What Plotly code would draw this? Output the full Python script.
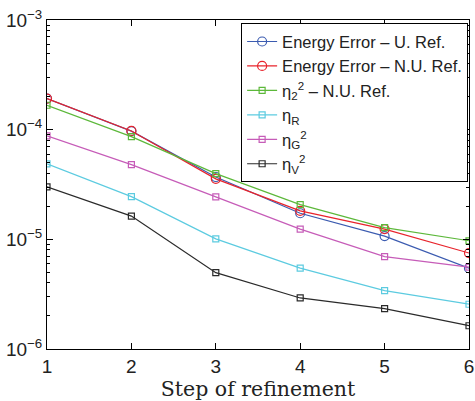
import plotly.graph_objects as go

steps = [1, 2, 3, 4, 5, 6]
energy_u = [1.92e-4, 9.7e-5, 3.7e-5, 1.73e-5, 1.07e-5, 5.46e-6]
energy_nu = [1.92e-4, 9.73e-5, 3.56e-5, 1.82e-5, 1.24e-5, 7.5e-6]
eta2_nu = [1.67e-4, 8.63e-5, 3.97e-5, 2.07e-5, 1.28e-5, 9.7e-6]
eta_r = [4.87e-5, 2.45e-5, 1.01e-5, 5.46e-6, 3.41e-6, 2.56e-6]
eta_g = [8.77e-5, 4.8e-5, 2.44e-5, 1.24e-5, 6.95e-6, 5.57e-6]
eta_v = [3.01e-5, 1.63e-5, 4.97e-6, 2.92e-6, 2.33e-6, 1.63e-6]

names = [
    "Energy Error \u2013 U. Ref.",
    "Energy Error \u2013 N.U. Ref.",
    "\u03b7<sub>2</sub><sup>2</sup> \u2013 N.U. Ref.",
    "\u03b7<sub>R</sub>",
    "\u03b7<sub>G</sub><sup>2</sup>",
    "\u03b7<sub>V</sub><sup>2</sup>",
]
y_ticks = [1e-6, 1e-5, 1e-4, 1e-3]
y_ticktext = ["10<sup>\u22126</sup>", "10<sup>\u22125</sup>", "10<sup>\u22124</sup>", "10<sup>\u22123</sup>"]

series = [energy_u, energy_nu, eta2_nu, eta_r, eta_g, eta_v]
colors = ["#3b5bb0", "#e8232b", "#5cb83a", "#5ccbe0", "#c65cb8", "#2a2a2a"]
symbols = ["circle-open", "circle-open", "square-open", "square-open", "square-open", "square-open"]
sizes = [9, 9, 6, 6, 6, 6]

fig = go.Figure()
for vals, name, c, s, sz in zip(series, names, colors, symbols, sizes):
    fig.add_trace(go.Scatter(
        x=steps, y=vals, name=name, mode="lines+markers",
        line=dict(color=c, width=1.2),
        marker=dict(symbol=s, size=sz, color=c, line=dict(width=1.2, color=c)),
    ))

axis_font = dict(family="Liberation Sans, Arial, sans-serif", size=19, color="#222")
fig.update_layout(
    width=475, height=401,
    margin=dict(l=47, r=6, t=20, b=52, autoexpand=False),
    paper_bgcolor="white", plot_bgcolor="white",
    showlegend=True,
    legend=dict(
        x=0.46, y=0.99, xanchor="left", yanchor="top",
        bgcolor="white", bordercolor="black", borderwidth=1,
        font=dict(family="Liberation Sans, Arial, sans-serif", size=16.5, color="#222"),
        tracegroupgap=0, itemwidth=30,
    ),
    xaxis=dict(
        range=[1, 6], tickvals=steps, ticks="inside", ticklen=6, tickcolor="black",
        showline=True, linecolor="black", linewidth=1, mirror="ticks",
        showgrid=False, zeroline=False, tickfont=axis_font,
        title=dict(text="Step of refinement", standoff=0,
                   font=dict(family="DejaVu Serif, Liberation Serif, serif", size=20.5, color="#222")),
    ),
    yaxis=dict(
        type="log", range=[-6, -3], tickvals=y_ticks, ticktext=y_ticktext,
        ticks="inside", ticklen=6, tickcolor="black",
        showline=True, linecolor="black", linewidth=1, mirror="ticks",
        showgrid=False, zeroline=False, tickfont=axis_font,
        minor=dict(ticks="inside", ticklen=3, tickcolor="black", dtick="D1", showgrid=False),
    ),
)

fig.write_html(
    "out.html",
    config={"displayModeBar": False},
    post_script="document.body.style.margin='0';document.body.style.overflow='hidden';",
)
